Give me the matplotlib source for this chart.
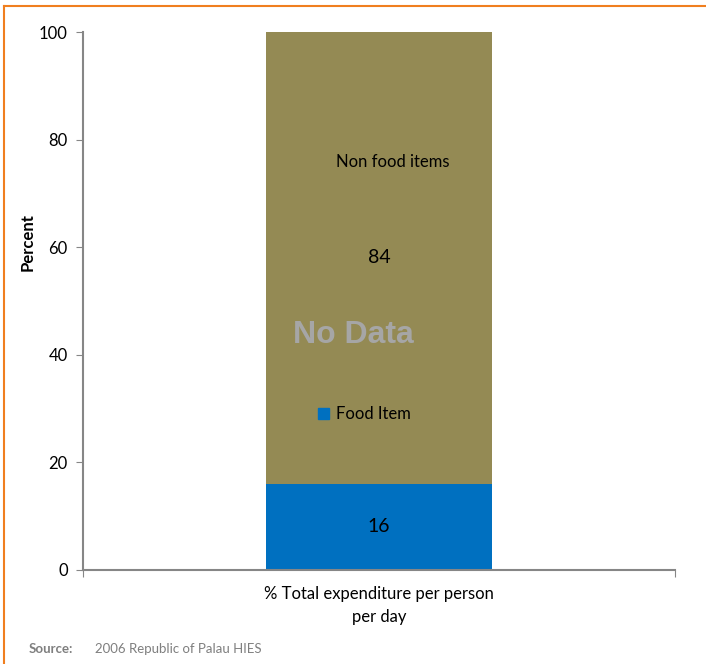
import matplotlib.pyplot as plt
from matplotlib.lines import Line2D
from matplotlib.patches import Patch

plt.rcParams['font.family'] = ['Lato', 'DejaVu Sans']

category = ['% Total expenditure per person\nper day']
food = [16]
non_food = [84]
series_names = ['Food Item', 'Non food items']

blue = '#0070C0'
olive = '#948A54'
axis_gray = '#868686'

fig = plt.figure(figsize=(7.06, 6.64), dpi=100)
ax = fig.add_axes([0.1176, 0.1416, 0.8385, 0.8102])

xpos = [0]
ax.bar(xpos, food, width=0.382, color=blue, zorder=2)
ax.bar(xpos, non_food, bottom=food, width=0.382, color=olive, zorder=2)

# value labels in the middle of each segment
ax.text(0, food[0] / 2, str(food[0]), ha='center', va='center', fontsize=14, zorder=4)
ax.text(0, food[0] + non_food[0] / 2, str(non_food[0]), ha='center', va='center', fontsize=14, zorder=4)

# watermark
ax.text(-0.044, 43.7, 'No Data', ha='center', va='center', fontsize=23, fontweight='bold',
        color='#A6A6A6', family='Liberation Sans', zorder=5)

ax.set_xlim(-0.5, 0.5)
ax.set_ylim(0, 100)
ax.set_yticks([0, 20, 40, 60, 80, 100])
ax.set_xticks([-0.5, 0.5])
ax.set_xticklabels(['', ''])
ax.tick_params(axis='y', direction='out', length=5, color=axis_gray, labelsize=12, pad=6)
ax.tick_params(axis='x', direction='out', length=5, color=axis_gray)
for s in ['top', 'right']:
    ax.spines[s].set_visible(False)
for s in ['left', 'bottom']:
    ax.spines[s].set_color(axis_gray)
    ax.spines[s].set_linewidth(1.5)

ax.set_ylabel('Percent', fontsize=12, fontweight='bold')
ax.yaxis.set_label_coords(-0.08, 0.61)
ax.text(0, -0.03, category[0], transform=ax.get_xaxis_transform(), ha='center', va='top',
        fontsize=12, linespacing=1.55)

# legend sits inside the bar
handles = [Patch(color=olive), Patch(color=blue)]
ax.legend(handles, [series_names[1], series_names[0]], loc='center', bbox_to_anchor=(0.508, 0.524),
          frameon=False, fontsize=12, handlelength=0.65, handleheight=0.65, handletextpad=0.4,
          labelspacing=14.2)

# source line
fig.text(0.04, 0.017, 'Source:', fontsize=9.5, fontweight='bold', color='#7F7F7F')
fig.text(0.134, 0.017, '2006 Republic of Palau HIES', fontsize=9.5, color='#7F7F7F')

# orange frame on the top and left edges
fig.add_artist(Line2D([0.006, 1.0], [0.991, 0.991], transform=fig.transFigure, color='#F07F1F', lw=1.5))
fig.add_artist(Line2D([0.006, 0.006], [0.0, 0.991], transform=fig.transFigure, color='#F07F1F', lw=1.5))

plt.savefig('out.png', dpi=100)
